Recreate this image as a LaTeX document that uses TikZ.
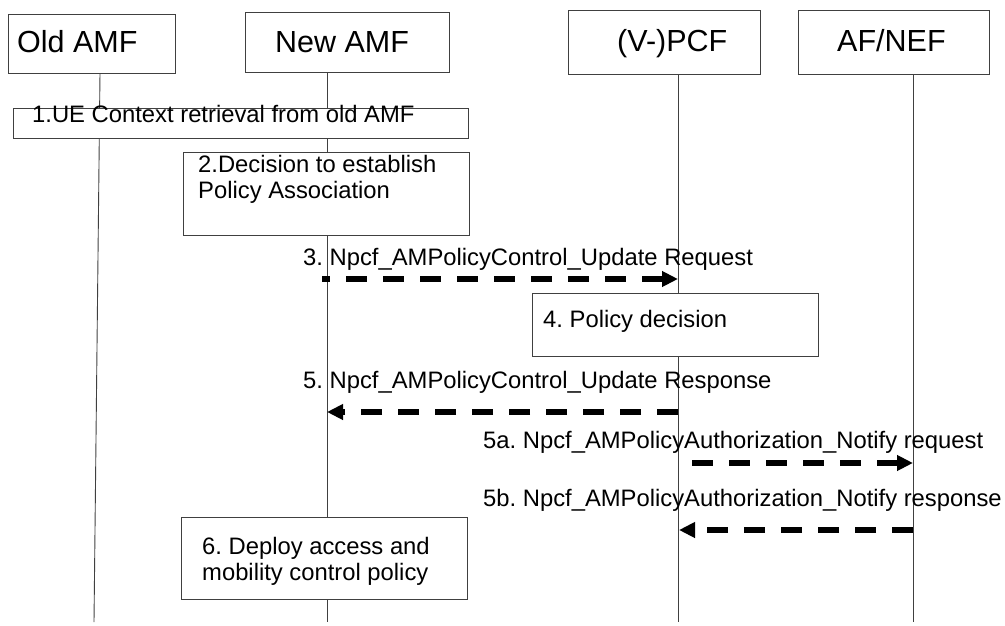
\documentclass[tikz,border=0pt]{standalone}
\usepackage{fontspec}
\setmainfont{Liberation Sans}
\usetikzlibrary{arrows.meta}
\frenchspacing
\begin{document}
\begin{tikzpicture}[x=1pt,y=-1pt,
	head_box/.style={draw=black!75,line width=0.9pt,fill=white,anchor=north west,inner sep=0pt},
	head_text/.style={anchor=base west,inner sep=0pt,font=\fontsize{30.5}{34}\selectfont},
	step_box/.style={draw=black!75,line width=0.9pt,fill=white,anchor=north west,inner sep=0pt},
	step_text/.style={anchor=base west,inner sep=0pt,align=left,font=\fontsize{23.8}{26}\selectfont},
	msg_text/.style={anchor=base west,inner sep=0pt,font=\fontsize{23.8}{26}\selectfont},
	msg_arrow/.style={line width=5.5pt,dash pattern=on 21pt off 16pt,-{Triangle[length=16pt,width=15pt]}},
	life_line/.style={draw=black!75,line width=0.9pt}]
		
		\useasboundingbox (0,0) rectangle (1005,626);
		
		\coordinate (old_top) at (100,73);
		\coordinate (old_bot) at (94,622);
		\coordinate (new_top) at (327,72);
		\coordinate (new_bot) at (327,622);
		\coordinate (pcf_top) at (678,74);
		\coordinate (pcf_bot) at (678,622);
		\coordinate (nef_top) at (913,74);
		\coordinate (nef_bot) at (913,622);
		
		\draw[life_line] (old_top) -- (old_bot);
		\draw[life_line] (new_top) -- (new_bot);
		\draw[life_line] (pcf_top) -- (pcf_bot);
		\draw[life_line] (nef_top) -- (nef_bot);
		
		\node[head_box,minimum width=167pt,minimum height=59pt] (old) at (8,14) {};
		\node[head_text] (old_t) at (17,53) {Old AMF};
		\node[head_box,minimum width=204pt,minimum height=60pt] (new) at (245,12) {};
		\node[head_text] (new_t) at (275,53) {New AMF};
		\node[head_box,minimum width=192pt,minimum height=64pt] (pcf) at (568,10) {};
		\node[head_text] (pcf_t) at (617,52) {(V-)PCF};
		\node[head_box,minimum width=191pt,minimum height=64pt] (nef) at (798,10) {};
		\node[head_text] (nef_t) at (837,52) {AF/NEF};
		
		\node[step_box,minimum width=455pt,minimum height=30pt] (s1) at (13,108) {};
		\node[msg_text] (s1_t) at (32,123) {1.UE Context retrieval from old AMF};
		\node[step_box,minimum width=286pt,minimum height=83pt] (s2) at (183,152) {};
		\node[step_text] (s2_t) at (198,198) {2.Decision to establish\\Policy Association};
		\node[step_box,minimum width=286pt,minimum height=63pt] (s4) at (532,293) {};
		\node[msg_text] (s4_t) at (543,327) {4. Policy decision};
		\node[step_box,minimum width=286pt,minimum height=82pt] (s6) at (181,517) {};
		\node[step_text] (s6_t) at (202,580) {6. Deploy access and\\mobility control policy};
		
		\coordinate (a3_s) at (322,279);
		\coordinate (a3_e) at (678,279);
		\coordinate (a5_s) at (678,412);
		\coordinate (a5_e) at (327,412);
		\coordinate (a5a_s) at (692,463);
		\coordinate (a5a_e) at (913,463);
		\coordinate (a5b_s) at (913,530);
		\coordinate (a5b_e) at (679,530);
		
		\node[msg_text] (m3) at (303,265) {3. Npcf\_AMPolicyControl\_Update Request};
		\node[msg_text] (m5) at (303,388) {5. Npcf\_AMPolicyControl\_Update Response};
		\node[msg_text] (m5a) at (483,448) {5a. Npcf\_AMPolicyAuthorization\_Notify request};
		\node[msg_text] (m5b) at (483,506) {5b. Npcf\_AMPolicyAuthorization\_Notify response};
		
		\draw[msg_arrow,dash phase=13pt] (a3_s) -- (a3_e);
		\draw[msg_arrow] (a5_s) -- (a5_e);
		\draw[msg_arrow] (a5a_s) -- (a5a_e);
		\draw[msg_arrow] (a5b_s) -- (a5b_e);
		\end{tikzpicture}
\end{document}
